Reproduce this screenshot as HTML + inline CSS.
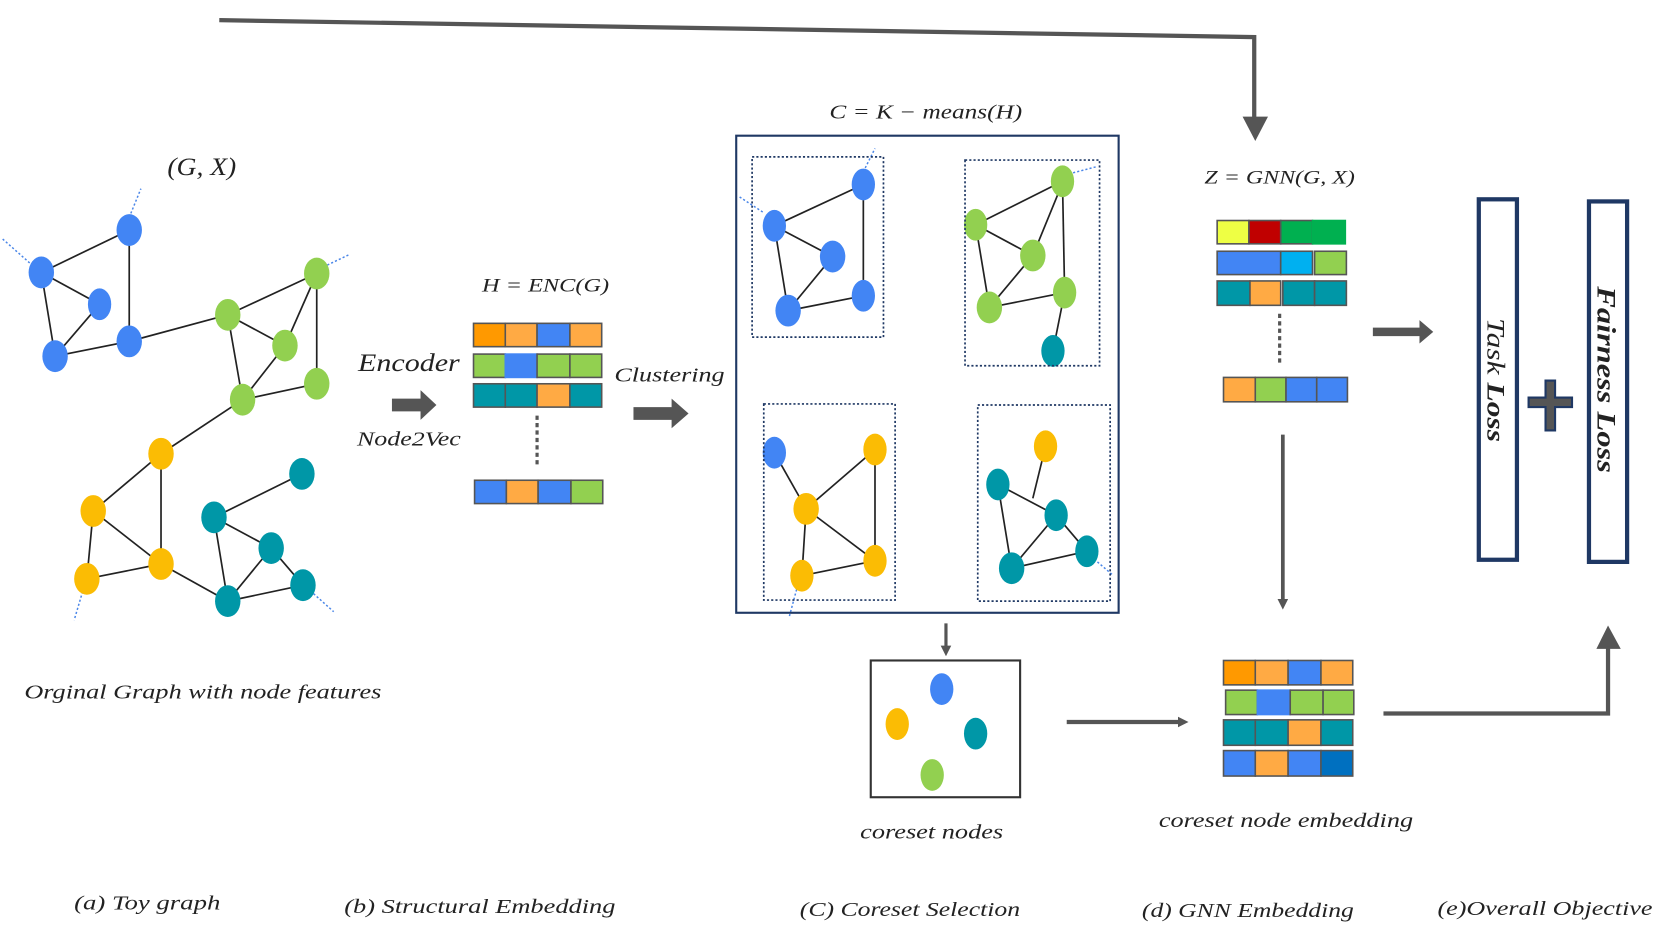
<!DOCTYPE html>
<html><head><meta charset="utf-8"><style>
html,body{margin:0;padding:0;background:#fff;width:1661px;height:934px;overflow:hidden}
svg{display:block}
text{font-family:"Liberation Serif",serif;font-style:italic;fill:#222}
</style></head><body>
<svg width="1661" height="934" viewBox="0 0 1568 881" preserveAspectRatio="none" xmlns="http://www.w3.org/2000/svg">
<defs>
<marker id="ah" markerWidth="10" markerHeight="10" refX="5" refY="5" orient="auto" markerUnits="userSpaceOnUse"><path d="M0,0 L10,5 L0,10 z" fill="#555"/></marker>
</defs>
<g stroke="#222" stroke-width="1.6" fill="none">
<line x1="39" y1="257" x2="122" y2="217"/><line x1="39" y1="257" x2="94" y2="287"/><line x1="39" y1="257" x2="52" y2="336"/>
<line x1="94" y1="287" x2="52" y2="336"/><line x1="52" y1="336" x2="122" y2="322"/><line x1="122" y1="217" x2="122" y2="322"/><line x1="122" y1="322" x2="215" y2="297"/>
<line x1="215" y1="297" x2="299" y2="258"/><line x1="215" y1="297" x2="269" y2="326"/><line x1="215" y1="297" x2="229" y2="377"/>
<line x1="299" y1="258" x2="269" y2="326"/><line x1="299" y1="258" x2="299" y2="362"/><line x1="269" y1="326" x2="229" y2="377"/><line x1="229" y1="377" x2="299" y2="362"/><line x1="229" y1="377" x2="152" y2="428"/>
<line x1="152" y1="428" x2="88" y2="482"/><line x1="152" y1="428" x2="152" y2="532"/><line x1="88" y1="482" x2="152" y2="532"/><line x1="88" y1="482" x2="82" y2="546"/><line x1="82" y1="546" x2="152" y2="532"/><line x1="152" y1="532" x2="215" y2="567"/>
<line x1="285" y1="447" x2="202" y2="488"/><line x1="202" y1="488" x2="256" y2="517"/><line x1="202" y1="488" x2="215" y2="567"/><line x1="256" y1="517" x2="215" y2="567"/><line x1="256" y1="517" x2="286" y2="552"/><line x1="215" y1="567" x2="286" y2="552"/>
<line x1="731" y1="213" x2="815" y2="174"/><line x1="731" y1="213" x2="786" y2="242"/><line x1="731" y1="213" x2="744" y2="293"/><line x1="786" y1="242" x2="744" y2="293"/><line x1="744" y1="293" x2="815" y2="279"/><line x1="815" y1="174" x2="815" y2="279"/>
<line x1="921" y1="212" x2="1003" y2="171"/><line x1="921" y1="212" x2="975" y2="241"/><line x1="921" y1="212" x2="934" y2="290"/><line x1="975" y1="241" x2="1000" y2="180"/><line x1="975" y1="241" x2="934" y2="290"/><line x1="934" y1="290" x2="1005" y2="276"/><line x1="1003" y1="171" x2="1005" y2="276"/><line x1="1005" y1="276" x2="994" y2="331"/>
<line x1="731" y1="427" x2="761" y2="480"/><line x1="761" y1="480" x2="826" y2="424"/><line x1="761" y1="480" x2="826" y2="529"/><line x1="826" y1="424" x2="826" y2="529"/><line x1="761" y1="480" x2="757" y2="543"/><line x1="757" y1="543" x2="826" y2="529"/>
<line x1="987" y1="421" x2="975" y2="470"/><line x1="942" y1="457" x2="997" y2="486"/><line x1="942" y1="457" x2="955" y2="536"/><line x1="997" y1="486" x2="955" y2="536"/><line x1="997" y1="486" x2="1026" y2="520"/><line x1="955" y1="536" x2="1026" y2="520"/>
</g>
<g stroke="#4a86e8" stroke-width="1.4" stroke-dasharray="2,2">
<line x1="122" y1="205" x2="133" y2="178"/><line x1="28" y1="248" x2="2" y2="225"/><line x1="309" y1="250" x2="330" y2="240"/><line x1="78" y1="558" x2="70" y2="585"/><line x1="296" y1="560" x2="315" y2="577"/>
<line x1="815" y1="162" x2="826" y2="140"/><line x1="720" y1="200" x2="697" y2="185"/><line x1="1013" y1="163" x2="1036" y2="157"/><line x1="752" y1="556" x2="745" y2="582"/><line x1="1036" y1="530" x2="1050" y2="542"/>
</g>
<g>
<g fill="#4285f4"><ellipse cx="122" cy="217" rx="12" ry="15"/><ellipse cx="39" cy="257" rx="12" ry="15"/><ellipse cx="94" cy="287" rx="11" ry="15"/><ellipse cx="52" cy="336" rx="12" ry="15"/><ellipse cx="122" cy="322" rx="12" ry="15"/>
<ellipse cx="815" cy="174" rx="11" ry="15"/><ellipse cx="731" cy="213" rx="11" ry="15"/><ellipse cx="786" cy="242" rx="12" ry="15"/><ellipse cx="744" cy="293" rx="12" ry="15"/><ellipse cx="815" cy="279" rx="11" ry="15"/><ellipse cx="731" cy="427" rx="11" ry="15"/><ellipse cx="889" cy="650" rx="11" ry="15"/></g>
<g fill="#92d050"><ellipse cx="215" cy="297" rx="12" ry="15"/><ellipse cx="299" cy="258" rx="12" ry="15"/><ellipse cx="269" cy="326" rx="12" ry="15"/><ellipse cx="299" cy="362" rx="12" ry="15"/><ellipse cx="229" cy="377" rx="12" ry="15"/>
<ellipse cx="1003" cy="171" rx="11" ry="15"/><ellipse cx="921" cy="212" rx="11" ry="15"/><ellipse cx="975" cy="241" rx="12" ry="15"/><ellipse cx="934" cy="290" rx="12" ry="15"/><ellipse cx="1005" cy="276" rx="11" ry="15"/><ellipse cx="880" cy="731" rx="11" ry="15"/></g>
<g fill="#fbbc04"><ellipse cx="152" cy="428" rx="12" ry="15"/><ellipse cx="88" cy="482" rx="12" ry="15"/><ellipse cx="152" cy="532" rx="12" ry="15"/><ellipse cx="82" cy="546" rx="12" ry="15"/>
<ellipse cx="826" cy="424" rx="11" ry="15"/><ellipse cx="761" cy="480" rx="12" ry="15"/><ellipse cx="826" cy="529" rx="11" ry="15"/><ellipse cx="757" cy="543" rx="11" ry="15"/><ellipse cx="987" cy="421" rx="11" ry="15"/><ellipse cx="847" cy="683" rx="11" ry="15"/></g>
<g fill="#0097a7"><ellipse cx="285" cy="447" rx="12" ry="15"/><ellipse cx="202" cy="488" rx="12" ry="15"/><ellipse cx="256" cy="517" rx="12" ry="15"/><ellipse cx="286" cy="552" rx="12" ry="15"/><ellipse cx="215" cy="567" rx="12" ry="15"/>
<ellipse cx="994" cy="331" rx="11" ry="15"/><ellipse cx="942" cy="457" rx="11" ry="15"/><ellipse cx="997" cy="486" rx="11" ry="15"/><ellipse cx="955" cy="536" rx="12" ry="15"/><ellipse cx="1026" cy="520" rx="11" ry="15"/><ellipse cx="921" cy="692" rx="11" ry="15"/></g>
</g>
<rect x="695" y="128" width="361" height="450" fill="none" stroke="#1f3864" stroke-width="2"/>
<g fill="none" stroke="#1f3864" stroke-width="1.6" stroke-dasharray="2,2">
<rect x="710" y="148" width="124" height="170"/><rect x="911" y="151" width="127" height="194"/><rect x="721" y="381" width="124" height="185"/><rect x="923" y="382" width="125" height="185"/>
</g>
<rect x="822" y="623" width="141" height="129" fill="none" stroke="#333" stroke-width="2"/>
<g stroke="#555" stroke-width="1.5">
<rect x="447" y="305" width="30" height="22" fill="#ff9900"/><rect x="477" y="305" width="30" height="22" fill="#ffaa44"/><rect x="507" y="305" width="31" height="22" fill="#4285f4"/><rect x="538" y="305" width="30" height="22" fill="#ffaa44"/>
<rect x="447" y="334" width="30" height="22" fill="#92d050"/><rect x="477" y="334" width="30" height="22" fill="#4285f4" stroke="#4285f4"/><rect x="507" y="334" width="31" height="22" fill="#92d050"/><rect x="538" y="334" width="30" height="22" fill="#92d050"/>
<rect x="447" y="362" width="30" height="22" fill="#0097a7"/><rect x="477" y="362" width="30" height="22" fill="#0097a7"/><rect x="507" y="362" width="31" height="22" fill="#ffaa44"/><rect x="538" y="362" width="30" height="22" fill="#0097a7"/>
<rect x="448" y="453" width="30" height="22" fill="#4285f4"/><rect x="478" y="453" width="30" height="22" fill="#ffaa44"/><rect x="508" y="453" width="31" height="22" fill="#4285f4"/><rect x="539" y="453" width="30" height="22" fill="#92d050"/>
<rect x="1149" y="208" width="30" height="22" fill="#eeff44"/><rect x="1179" y="208" width="30" height="22" fill="#c00000"/><rect x="1209" y="208" width="30" height="22" fill="#00b050"/><rect x="1239" y="208" width="31" height="22" fill="#00b050" stroke="#00b050"/>
<rect x="1149" y="237" width="60" height="22" fill="#4285f4"/><rect x="1209" y="237" width="30" height="22" fill="#00b0f0"/><rect x="1241" y="237" width="30" height="22" fill="#92d050"/>
<rect x="1149" y="265" width="31" height="23" fill="#0097a7"/><rect x="1180" y="265" width="29" height="23" fill="#ffaa44"/><rect x="1211" y="265" width="30" height="23" fill="#0097a7"/><rect x="1241" y="265" width="30" height="23" fill="#0097a7"/>
<rect x="1155" y="356" width="30" height="23" fill="#ffaa44"/><rect x="1185" y="356" width="29" height="23" fill="#92d050"/><rect x="1214" y="356" width="29" height="23" fill="#4285f4"/><rect x="1243" y="356" width="29" height="23" fill="#4285f4"/>
<rect x="1155" y="623" width="30" height="23" fill="#ff9900"/><rect x="1185" y="623" width="31" height="23" fill="#ffaa44"/><rect x="1216" y="623" width="31" height="23" fill="#4285f4"/><rect x="1247" y="623" width="30" height="23" fill="#ffaa44"/>
<rect x="1157" y="651" width="30" height="23" fill="#92d050"/><rect x="1187" y="651" width="31" height="23" fill="#4285f4" stroke="#4285f4"/><rect x="1218" y="651" width="31" height="23" fill="#92d050"/><rect x="1249" y="651" width="29" height="23" fill="#92d050"/>
<rect x="1155" y="679" width="30" height="24" fill="#0097a7"/><rect x="1185" y="679" width="31" height="24" fill="#0097a7"/><rect x="1216" y="679" width="31" height="24" fill="#ffaa44"/><rect x="1247" y="679" width="30" height="24" fill="#0097a7"/>
<rect x="1155" y="708" width="30" height="24" fill="#4285f4"/><rect x="1185" y="708" width="31" height="24" fill="#ffaa44"/><rect x="1216" y="708" width="31" height="24" fill="#4285f4"/><rect x="1247" y="708" width="30" height="24" fill="#0070c0"/>
</g>
<g stroke="#555" stroke-width="3" stroke-dasharray="4,3"><line x1="507" y1="392" x2="507" y2="440"/><line x1="1208" y1="296" x2="1208" y2="342"/></g>
<g fill="#555">
<polygon points="370,376 397,376 397,368 412,382 397,396 397,388 370,388"/>
<polygon points="598,384 634,384 634,376 650,390 634,404 634,396 598,396"/>
<polygon points="1296,309 1340,309 1340,302 1353,313 1340,324 1340,317 1296,317"/>
<polygon points="1173,110 1185,133 1197,110"/>
<polygon points="1507,612 1518,590 1530,612"/>
</g>
<g stroke="#555" fill="none">
<polyline points="207,19 1184,35 1184,112" stroke-width="4"/>
<line x1="893" y1="588" x2="893" y2="614" stroke-width="3" marker-end="url(#ah)"/>
<line x1="1211" y1="410" x2="1211" y2="570" stroke-width="3.5" marker-end="url(#ah)"/>
<line x1="1007" y1="681" x2="1117" y2="681" stroke-width="4" marker-end="url(#ah)"/>
<polyline points="1306,673 1518,673 1518,610" stroke-width="4"/>
</g>
<rect x="1396" y="188" width="36" height="340" fill="#fff" stroke="#1f3864" stroke-width="4"/>
<rect x="1500" y="190" width="36" height="340" fill="#fff" stroke="#1f3864" stroke-width="4"/>
<path d="M1459,359 h9 v16 h16 v9 h-16 v22 h-9 v-22 h-16 v-9 h16 z" fill="#555" stroke="#1f3864" stroke-width="2"/>
<text transform="translate(1404,300) rotate(90)" font-size="24" textLength="117" lengthAdjust="spacingAndGlyphs">Task <tspan font-weight="bold">Loss</tspan></text>
<text transform="translate(1508,270) rotate(90)" font-size="25" font-weight="bold" textLength="176" lengthAdjust="spacingAndGlyphs">Fairness Loss</text>
<g lengthAdjust="spacingAndGlyphs">
<text x="158" y="165" font-size="24" textLength="65" lengthAdjust="spacingAndGlyphs">(G, X)</text>
<text x="455" y="275" font-size="18" textLength="120" lengthAdjust="spacingAndGlyphs">H = ENC(G)</text>
<text x="338" y="350" font-size="24" textLength="96" lengthAdjust="spacingAndGlyphs">Encoder</text>
<text x="337" y="420" font-size="19" textLength="98" lengthAdjust="spacingAndGlyphs">Node2Vec</text>
<text x="580" y="360" font-size="19" textLength="104" lengthAdjust="spacingAndGlyphs">Clustering</text>
<text x="783" y="112" font-size="19" textLength="182" lengthAdjust="spacingAndGlyphs">C = K − means(H)</text>
<text x="1137" y="173" font-size="18" textLength="142" lengthAdjust="spacingAndGlyphs">Z = GNN(G, X)</text>
<text x="23" y="659" font-size="19" textLength="337" lengthAdjust="spacingAndGlyphs">Orginal Graph with node features</text>
<text x="812" y="791" font-size="19" textLength="135" lengthAdjust="spacingAndGlyphs">coreset nodes</text>
<text x="1094" y="780" font-size="19" textLength="240" lengthAdjust="spacingAndGlyphs">coreset node embedding</text>
<text x="70" y="858" font-size="19" textLength="138" lengthAdjust="spacingAndGlyphs">(a) Toy graph</text>
<text x="325" y="861" font-size="19" textLength="256" lengthAdjust="spacingAndGlyphs">(b) Structural Embedding</text>
<text x="755" y="864" font-size="19" textLength="208" lengthAdjust="spacingAndGlyphs">(C) Coreset Selection</text>
<text x="1078" y="865" font-size="19" textLength="200" lengthAdjust="spacingAndGlyphs">(d) GNN Embedding</text>
<text x="1357" y="863" font-size="19" textLength="203" lengthAdjust="spacingAndGlyphs">(e)Overall Objective</text>
</g>
</svg>
</body></html>
